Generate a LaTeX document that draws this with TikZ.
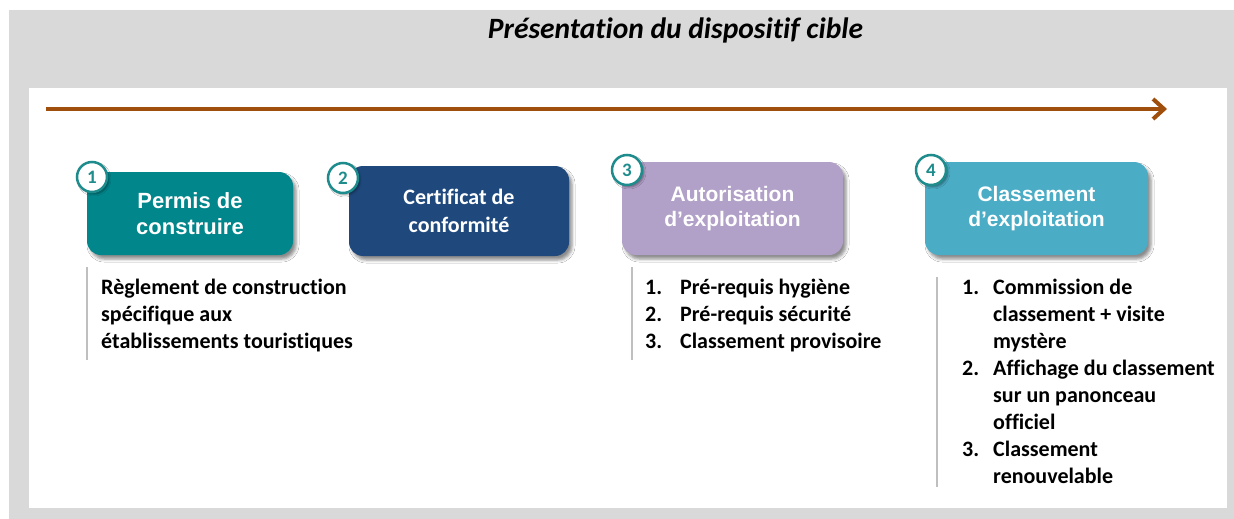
\documentclass[tikz,border=0pt]{standalone}
\usepackage{fontspec}
\setmainfont{Carlito}[Ligatures=NoCommon]
\newfontfamily\arialf{Liberation Sans}
\usetikzlibrary{arrows.meta,shadows.blur}
\definecolor{bggray}{HTML}{D9D9D9}
\definecolor{arrowc}{RGB}{160,78,12}
\definecolor{tealc}{RGB}{0,134,139}
\definecolor{navyc}{RGB}{31,73,125}
\definecolor{purplec}{RGB}{177,160,199}
\definecolor{cyanc}{RGB}{75,172,198}
\definecolor{ringc}{RGB}{30,140,140}
\definecolor{rulec}{RGB}{191,191,191}
\tikzset{
  stagebox/.style={rectangle, rounded corners=14pt, text=white, align=center, inner sep=0pt,
    blur shadow={shadow xshift=3pt, shadow yshift=-4pt, shadow blur radius=3pt, shadow opacity=45}},
  numdisc/.style={circle, draw=ringc, line width=2.5pt, fill=white, minimum size=30pt, inner sep=0pt,
    text=ringc, font=\fontsize{19}{19}\selectfont\bfseries,
    blur shadow={shadow xshift=2pt, shadow yshift=-2pt, shadow blur radius=2pt, shadow opacity=40}},
  listtext/.style={anchor=base west, inner sep=0pt, font=\fontsize{22}{27}\selectfont\bfseries},
  sidebar/.style={draw=rulec, line width=2.5pt},
}
\begin{document}
\begin{tikzpicture}[x=1pt,y=-1pt]
\useasboundingbox (0,0) rectangle (1234,519);
\fill[white] (0,0) rectangle (1234,519);
\fill[bggray] (9,10) rectangle (1234,519);
\fill[white] (29,88) rectangle (1227,508);

\node[font=\fontsize{29.5}{34}\selectfont\bfseries\itshape] (title) at (675.5,30) {Présentation du dispositif cible};

\coordinate (as) at (46,109);
\coordinate (ae) at (1167,109);
\draw[arrowc, line width=4pt, -{Straight Barb[length=11pt,width=20pt]}] (as) -- (ae);

\node[stagebox, fill=tealc, minimum width=206pt, minimum height=83pt,
  font=\arialf\fontsize{22}{26}\selectfont\bfseries] (b1) at (190,213.5) {Permis de\\construire};
\node[stagebox, fill=navyc, minimum width=220pt, minimum height=90pt,
  font=\fontsize{22}{28}\selectfont\bfseries] (b2) at (459,211) {Certificat de\\conformité};
\node[stagebox, fill=purplec, minimum width=221pt, minimum height=93pt,
  font=\arialf\fontsize{21}{25}\selectfont\bfseries] (b3) at (732.5,208.5) {Autorisation\\d’exploitation};
\node[stagebox, fill=cyanc, minimum width=223pt, minimum height=93pt,
  font=\arialf\fontsize{21}{25}\selectfont\bfseries] (b4) at (1036.5,208.5) {Classement\\d’exploitation};

\node[numdisc] (c1) at (92,177) {1};
\node[numdisc] (c2) at (343,178) {2};
\node[numdisc] (c3) at (627,170) {3};
\node[numdisc] (c4) at (931,170) {4};

\coordinate (s1a) at (87,267); \coordinate (s1b) at (87,360);
\coordinate (s3a) at (632,267); \coordinate (s3b) at (632,360);
\coordinate (s4a) at (937,277); \coordinate (s4b) at (937,487);
\draw[sidebar] (s1a) -- (s1b);
\draw[sidebar] (s3a) -- (s3b);
\draw[sidebar] (s4a) -- (s4b);

\node[listtext] (l1) at (101,294) {\begin{tabular}[t]{@{}l@{}}Règlement de construction\\spécifique aux\\établissements touristiques\end{tabular}};
\node[listtext] (l3) at (645,294) {\begin{tabular}[t]{@{}p{35pt}@{}l@{}}1.&Pré-requis hygiène\\2.&Pré-requis sécurité\\3.&Classement provisoire\end{tabular}};
\node[listtext] (l4) at (962,294) {\begin{tabular}[t]{@{}p{31pt}@{}l@{}}1.&Commission de\\&classement + visite\\&mystère\\2.&Affichage du classement\\&sur un panonceau\\&officiel\\3.&Classement\\&renouvelable\end{tabular}};
\end{tikzpicture}
\end{document}
